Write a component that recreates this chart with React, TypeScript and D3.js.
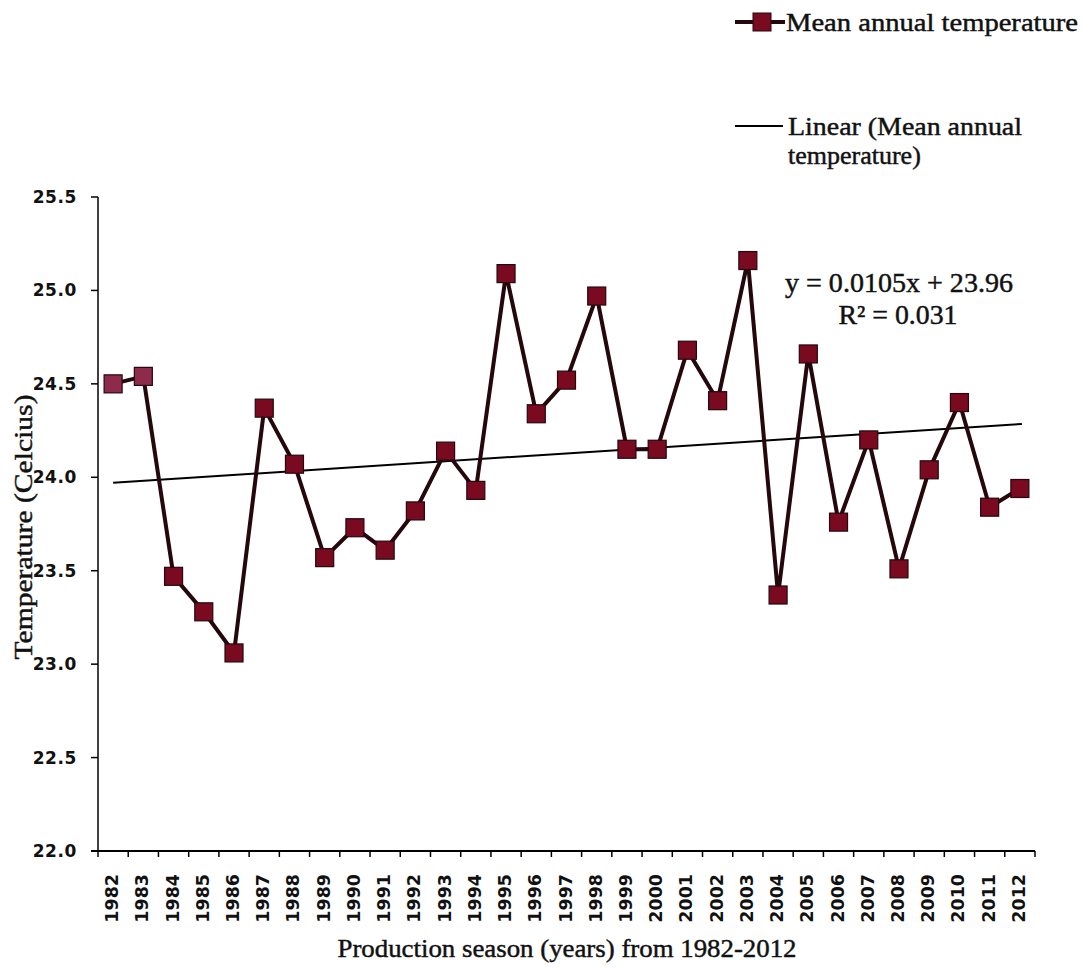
import React from "react";
import * as d3 from "d3";

// Mean annual temperature per production season
const years: string[] = [
  "1982", "1983", "1984", "1985", "1986", "1987", "1988", "1989", "1990", "1991",
  "1992", "1993", "1994", "1995", "1996", "1997", "1998", "1999", "2000", "2001",
  "2002", "2003", "2004", "2005", "2006", "2007", "2008", "2009", "2010", "2011", "2012",
];
const meanTemp: number[] = [
  24.5, 24.54, 23.47, 23.28, 23.06, 24.37, 24.07, 23.57, 23.73, 23.61,
  23.82, 24.14, 23.93, 25.09, 24.34, 24.52, 24.97, 24.15, 24.15, 24.68,
  24.41, 25.16, 23.37, 24.66, 23.76, 24.2, 23.51, 24.04, 24.4, 23.84, 23.94,
];
const yTicks: number[] = [22.0, 22.5, 23.0, 23.5, 24.0, 24.5, 25.0, 25.5];
// Linear trend: y = slope * x + intercept, x = 1..n
const trendSlope = 0.0105;
const trendIntercept = 23.96;
const trendR2 = 0.031;

const W = 1083;
const H = 971;
const left = 98;
const right = 1035;
const top = 197;
const bottom = 851;

const serif = "'Liberation Serif', 'Times New Roman', serif";
const sans = "'DejaVu Sans', sans-serif";

// slightly heavier serif text
const serifStyle = {
  fontFamily: serif,
  fill: "#111",
  stroke: "#111",
  strokeWidth: 0.45,
};

export default function App() {
  const x = d3.scaleBand<string>().domain(years).range([left, right]).padding(0);
  const y = d3.scaleLinear().domain([22, 25.5]).range([bottom, top]);
  const cx = (yr: string) => (x(yr) as number) + x.bandwidth() / 2;

  const line = d3
    .line<number>()
    .x((_, i) => cx(years[i]))
    .y((d) => y(d));

  const trendStart = trendSlope * 1 + trendIntercept;
  const trendEnd = trendSlope * years.length + trendIntercept;

  const markerSize = 18;
  const fill = "#7a0a20";
  const stroke = "#24080d";

  const bounds = [...years.map((yr) => x(yr) as number), right];

  return (
    <svg
      width={W}
      height={H}
      viewBox={`0 0 ${W} ${H}`}
      style={{ position: "absolute", left: 0, top: 0, background: "#fff" }}
    >
      {/* axes */}
      <line x1={left} x2={left} y1={top} y2={bottom} stroke="#000" strokeWidth={1.5} />
      <line x1={left - 7} x2={right} y1={bottom} y2={bottom} stroke="#000" strokeWidth={2} />
      {yTicks.map((t) => (
        <g key={t}>
          <line x1={left - 7} x2={left} y1={y(t)} y2={y(t)} stroke="#000" strokeWidth={1.5} />
          <text
            x={77}
            y={y(t)}
            textAnchor="end"
            dominantBaseline="central"
            fontFamily={sans}
            fontWeight="bold"
            fontSize={17}
            letterSpacing={0.6}
            fill="#111"
          >
            {t.toFixed(1)}
          </text>
        </g>
      ))}
      {bounds.map((b, i) => (
        <line key={i} x1={b} x2={b} y1={bottom} y2={bottom + 6} stroke="#000" strokeWidth={1.5} />
      ))}
      {years.map((yr) => (
        <text
          key={yr}
          transform={`translate(${cx(yr) - 1},874) rotate(-90)`}
          textAnchor="end"
          dominantBaseline="central"
          fontFamily={sans}
          fontWeight="bold"
          fontSize={17.5}
          fill="#111"
        >
          {yr}
        </text>
      ))}

      {/* axis titles */}
      <text
        x={567}
        y={957}
        textAnchor="middle"
        fontSize={26}
        textLength={459}
        lengthAdjust="spacingAndGlyphs"
        {...serifStyle}
      >
        Production season (years) from 1982-2012
      </text>
      <text
        transform="translate(32,527) rotate(-90)"
        textAnchor="middle"
        fontSize={26}
        textLength={265}
        lengthAdjust="spacingAndGlyphs"
        {...serifStyle}
      >
        Temperature (Celcius)
      </text>

      {/* trend line */}
      <line
        x1={cx(years[0])}
        x2={cx(years[years.length - 1]) + 2}
        y1={y(trendStart)}
        y2={y(trendEnd)}
        stroke="#000"
        strokeWidth={2}
      />

      {/* data series */}
      <path d={line(meanTemp) ?? ""} fill="none" stroke={stroke} strokeWidth={4} />
      {meanTemp.map((v, i) => (
        <rect
          key={years[i]}
          x={cx(years[i]) - markerSize / 2}
          y={y(v) - markerSize / 2}
          width={markerSize}
          height={markerSize}
          fill={i < 2 ? "#8e2a4c" : fill}
          stroke={stroke}
          strokeWidth={1.2}
        />
      ))}

      {/* regression equation */}
      <text x={899} y={292} textAnchor="middle" fontSize={27} textLength={228} lengthAdjust="spacingAndGlyphs" {...serifStyle}>
        y = {trendSlope}x + {trendIntercept}
      </text>
      <text x={898} y={324} textAnchor="middle" fontSize={27} textLength={119} lengthAdjust="spacingAndGlyphs" {...serifStyle}>
        R² = {trendR2}
      </text>

      {/* legend */}
      <line x1={735} x2={785} y1={22} y2={22} stroke={stroke} strokeWidth={4} />
      <rect x={753} y={13} width={18} height={18} fill={fill} stroke={stroke} strokeWidth={1} />
      <text x={786} y={31} fontSize={26} textLength={292} lengthAdjust="spacingAndGlyphs" {...serifStyle}>
        Mean annual  temperature
      </text>
      <line x1={735} x2={783} y1={126} y2={126} stroke="#000" strokeWidth={2} />
      <text x={788} y={135} fontSize={26} textLength={234} lengthAdjust="spacingAndGlyphs" {...serifStyle}>
        Linear (Mean annual
      </text>
      <text x={788} y={164} fontSize={26} {...serifStyle}>
        temperature)
      </text>
    </svg>
  );
}
